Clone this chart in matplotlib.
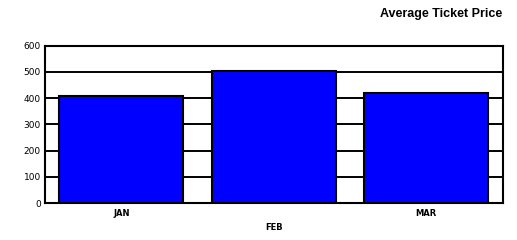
import numpy as np
import matplotlib.pyplot as plt

# data
months = ["JAN", "FEB", "MAR"]
prices = [410, 505, 420]
yticks = [0, 100, 200, 300, 400, 500, 600]

fig = plt.figure(figsize=(5.17, 2.4), dpi=100)
ax = fig.add_axes([0.087, 0.153, 0.885, 0.657])

x = np.arange(len(months))
ax.bar(x, prices, width=0.81, color="#0000ff", edgecolor="black", linewidth=1.5, zorder=3)

ax.set_xlim(-0.5, len(months) - 0.5)
ax.set_ylim(0, 600)
ax.set_yticks(yticks)
ax.set_yticklabels([str(v) for v in yticks], fontsize=6.5)
ax.yaxis.grid(True, color="black", linewidth=1.4, zorder=0)
ax.set_axisbelow(True)

ax.set_xticks(x)
ax.set_xticklabels(months, fontsize=6, fontweight="bold")
ax.tick_params(axis="both", length=0)
ax.tick_params(axis="y", pad=3)
ax.tick_params(axis="x", pad=4)
ax.xaxis.get_major_ticks()[1].set_pad(14)

for s in ax.spines.values():
    s.set_linewidth(1.5)
    s.set_color("black")

fig.text(0.972, 0.94, "Average Ticket Price", ha="right", va="center",
         fontsize=9, fontweight="bold", family="Liberation Sans")

plt.savefig("out.png", dpi=100)
